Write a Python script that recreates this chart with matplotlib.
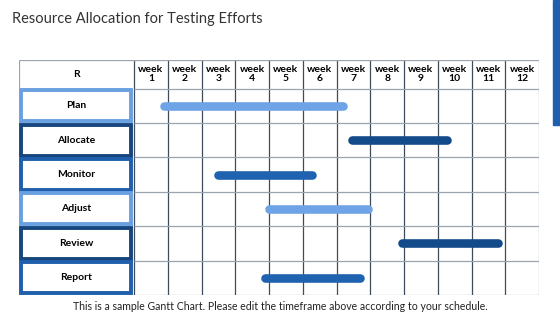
import matplotlib
matplotlib.use("Agg")
import matplotlib.pyplot as plt
from matplotlib.patches import Rectangle

# data
tasks = ["Plan", "Allocate", "Monitor", "Adjust", "Review", "Report"]
weeks = [f"week\n{i}" for i in range(1, 13)]
# visible bar extents, in weeks from the start of week 1
bar_start = [0.77, 6.35, 2.37, 3.88, 7.82, 3.76]
bar_end = [6.31, 9.40, 5.39, 7.05, 10.90, 6.82]
tone = ["light", "dark", "mid", "light", "dark", "mid"]

colors = {"light": "#6ea4e6", "mid": "#1f62b0", "dark": "#134b8a"}
box_colors = {"light": "#6a9fe0", "mid": "#1f5fab", "dark": "#17467e"}

plt.rcParams["font.family"] = ["Lato", "DejaVu Sans"]

fig = plt.figure(figsize=(5.6, 3.15), dpi=100)
ax = fig.add_axes([19 / 560, 20 / 315, 520 / 560, 235 / 315])

label_w = 3.41
header_h = 0.83
n = len(tasks)
ax.set_xlim(-label_w, len(weeks))
ax.set_ylim(n, -header_h)
ax.axis("off")

grid_dark = "#3f4a5a"
grid_light = "#9aa3ae"

# grid
ax.vlines(range(0, len(weeks)), -header_h, n, color=grid_dark, lw=0.9)
ax.vlines(len(weeks), -header_h, n, color=grid_light, lw=0.9)
ax.hlines(range(0, n + 1), 0, len(weeks), color=grid_light, lw=0.9)
ax.hlines(-header_h, -label_w, len(weeks), color=grid_light, lw=0.9)
ax.vlines(-label_w, -header_h, 0, color=grid_light, lw=0.9)

# header
ax.text(-label_w / 2, -header_h / 2, "R", ha="center", va="center",
        fontsize=7.5, fontweight="bold")
for i, w in enumerate(weeks):
    ax.text(i + 0.5, -header_h / 2, w, ha="center", va="center",
            fontsize=7.5, fontweight="bold", linespacing=1.0)

# task label boxes
for i, (t, k) in enumerate(zip(tasks, tone)):
    ax.add_patch(Rectangle((-label_w + 0.05, i + 0.05), label_w - 0.14, 0.9,
                           facecolor="white", edgecolor=box_colors[k], lw=2.8))
    ax.text(-label_w / 2 - 0.02, i + 0.5, t, ha="center", va="center",
            fontsize=7.5, fontweight="bold")

# bars (round caps, so pull the ends in by the cap radius)
cap = 4 / 33.75
for i, (s, e, k) in enumerate(zip(bar_start, bar_end, tone)):
    ax.plot([s + cap, e - cap], [i + 0.5, i + 0.5], color=colors[k],
            lw=6.2, solid_capstyle="round")

# decorations
fig.patches.append(Rectangle((553 / 560, 1 - 125 / 315), 7 / 560, 125 / 315,
                             transform=fig.transFigure, color="#1f5fae"))
fig.text(12 / 560, 1 - 19 / 315, "Resource Allocation for Testing Efforts",
         fontsize=10.5, color="#333333", va="center")
fig.text(0.5, 1 - 307 / 315,
         "This is a sample Gantt Chart. Please edit the timeframe above according to your schedule.",
         fontsize=7.6, color="#222222", ha="center", va="center")

fig.savefig("out.png", dpi=100)
